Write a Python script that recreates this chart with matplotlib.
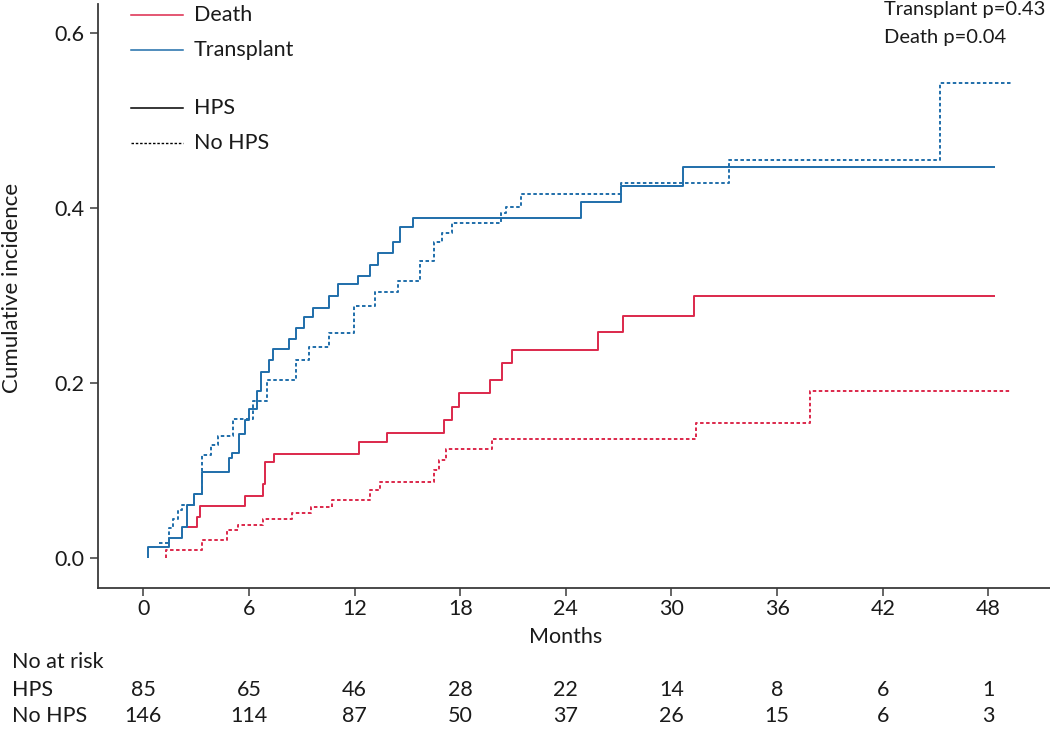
import numpy as np
import matplotlib
matplotlib.use("Agg")
import matplotlib.pyplot as plt
from matplotlib.lines import Line2D
from matplotlib.transforms import blended_transform_factory

plt.rcParams['font.family'] = ['Lato', 'DejaVu Sans']

# ---- data (months, cumulative incidence) ----
hps_tx_t = [0.28, 0.28, 1.46, 2.22, 2.50, 2.88, 3.35, 4.87, 5.02, 5.45, 5.78, 6.02, 6.47, 6.66,
            7.14, 7.35, 8.27, 8.67, 9.13, 9.62, 10.56, 11.04, 12.19, 12.89, 13.31, 14.16,
            14.60, 15.30, 24.84, 27.15, 30.67]
hps_tx_v = [0.0, 0.013, 0.023, 0.035, 0.061, 0.073, 0.098, 0.114, 0.120, 0.142, 0.158, 0.170,
            0.191, 0.213, 0.226, 0.239, 0.250, 0.263, 0.275, 0.286, 0.299, 0.313, 0.322,
            0.335, 0.349, 0.361, 0.378, 0.388, 0.407, 0.425, 0.447]
hps_tx_end = 48.37

nohps_tx_t = [0.91, 1.46, 1.67, 1.95, 2.20, 2.88, 3.35, 3.84, 4.22, 5.11, 6.21, 7.00, 8.67,
              9.43, 10.56, 11.98, 13.16, 14.48, 15.71, 16.51, 16.94, 17.55, 20.31, 20.60,
              21.45, 27.15, 33.28, 45.24]
nohps_tx_v = [0.0175, 0.034, 0.045, 0.055, 0.061, 0.073, 0.118, 0.129, 0.139, 0.159, 0.179,
              0.203, 0.226, 0.2415, 0.2575, 0.288, 0.304, 0.317, 0.339, 0.361, 0.371, 0.383,
              0.394, 0.401, 0.416, 0.428, 0.455, 0.543]
nohps_tx_end = 49.35

hps_death_t = [2.50, 3.03, 3.22, 5.78, 6.78, 6.93, 7.42, 12.27, 13.86, 17.09, 17.55, 17.91,
               19.71, 20.35, 20.92, 25.80, 27.22, 31.27]
hps_death_v = [0.035, 0.047, 0.059, 0.071, 0.085, 0.110, 0.119, 0.132, 0.143, 0.158, 0.173,
               0.188, 0.203, 0.2225, 0.238, 0.258, 0.276, 0.299]
hps_death_end = 48.37

nohps_death_t = [1.27, 1.27, 3.31, 4.77, 5.36, 6.82, 8.46, 9.50, 10.73, 12.87, 13.44, 16.53,
                 16.80, 17.20, 19.78, 31.42, 37.86]
nohps_death_v = [0.0, 0.009, 0.0206, 0.032, 0.0377, 0.0446, 0.0518, 0.058, 0.066, 0.078,
                 0.0865, 0.100, 0.112, 0.1246, 0.136, 0.1547, 0.191]
nohps_death_end = 49.25

x_ticks = [0, 6, 12, 18, 24, 30, 36, 42, 48]
y_ticks = [0.0, 0.2, 0.4, 0.6]
risk_hps = [85, 65, 46, 28, 22, 14, 8, 6, 1]
risk_nohps = [146, 114, 87, 50, 37, 26, 15, 6, 3]

RED = '#DC284B'
BLUE = '#1F6EAA'
TXT = '#1a1a1a'
AX = '#3a3a3a'
FS = 15.5
W, H = 1050, 732

fig = plt.figure(figsize=(W / 100, H / 100), dpi=100)
ax = fig.add_axes([98 / W, 1 - 588 / H, 1 - 98 / W, (588 - 4) / H])


def fx(x):
    return x / W


def fy(y):
    return 1 - y / H


dash = (0, (1.8, 1.3))
lw = 1.4


def draw(t, v, end, color, ls, z):
    xs = list(t) + [end]
    ys = list(v) + [v[-1]]
    ax.step(xs, ys, where='post', color=color, lw=lw, linestyle=ls, zorder=z,
            solid_capstyle='butt', dash_capstyle='butt')


draw(nohps_death_t, nohps_death_v, nohps_death_end, RED, dash, 2)
draw(nohps_tx_t, nohps_tx_v, nohps_tx_end, BLUE, dash, 2)
draw(hps_death_t, hps_death_v, hps_death_end, RED, '-', 3)
draw(hps_tx_t, hps_tx_v, hps_tx_end, BLUE, '-', 4)

ax.set_xlim(-2.573, 51.5)
ax.set_ylim(-0.0343, 0.633)
ax.set_xticks(x_ticks)
ax.set_yticks(y_ticks)
ax.set_yticklabels([f"{v:.1f}" for v in y_ticks])
for s in ['top', 'right']:
    ax.spines[s].set_visible(False)
for s in ['left', 'bottom']:
    ax.spines[s].set_color(AX)
    ax.spines[s].set_linewidth(1.3)
ax.tick_params(axis='both', colors=AX, labelcolor=TXT, labelsize=FS, length=6, width=1.1)
ax.tick_params(axis='x', pad=2)
ax.tick_params(axis='y', pad=4)

fig.text(fx(12), fy(288), 'Cumulative incidence', rotation=90, ha='center', va='center',
         fontsize=16, color=TXT)

trans = blended_transform_factory(ax.transData, fig.transFigure)
ax.text(24, fy(637), 'Months', transform=trans, ha='center', va='center', fontsize=FS, color=TXT)

fig.text(fx(12), fy(662), 'No at risk', ha='left', va='center', fontsize=FS, color=TXT)
fig.text(fx(12), fy(690), 'HPS', ha='left', va='center', fontsize=FS, color=TXT)
fig.text(fx(12), fy(716), 'No HPS', ha='left', va='center', fontsize=FS, color=TXT)
for xt, a, b in zip(x_ticks, risk_hps, risk_nohps):
    ax.text(xt, fy(690), str(a), transform=trans, ha='center', va='center', fontsize=FS,
            color=TXT, clip_on=False)
    ax.text(xt, fy(716), str(b), transform=trans, ha='center', va='center', fontsize=FS,
            color=TXT, clip_on=False)

# legend
leg = [('Death', RED, '-', 15), ('Transplant', BLUE, '-', 50),
       ('HPS', 'black', '-', 108), ('No HPS', 'black', (0, (1.8, 1.3)), 143)]
for label, c, ls, y in leg:
    fig.add_artist(Line2D([fx(131), fx(183)], [fy(y), fy(y)], color=c, lw=1.1 if ls == '-' else 1.0,
                          linestyle=ls, transform=fig.transFigure))
    fig.text(fx(194), fy(y), label, ha='left', va='center', fontsize=FS, color=TXT)

fig.text(fx(884), fy(10), 'Transplant p=0.43', ha='left', va='center', fontsize=14.5, color=TXT)
fig.text(fx(884), fy(37), 'Death p=0.04', ha='left', va='center', fontsize=14.5, color=TXT)

fig.savefig('out.png', dpi=100, facecolor='white')
